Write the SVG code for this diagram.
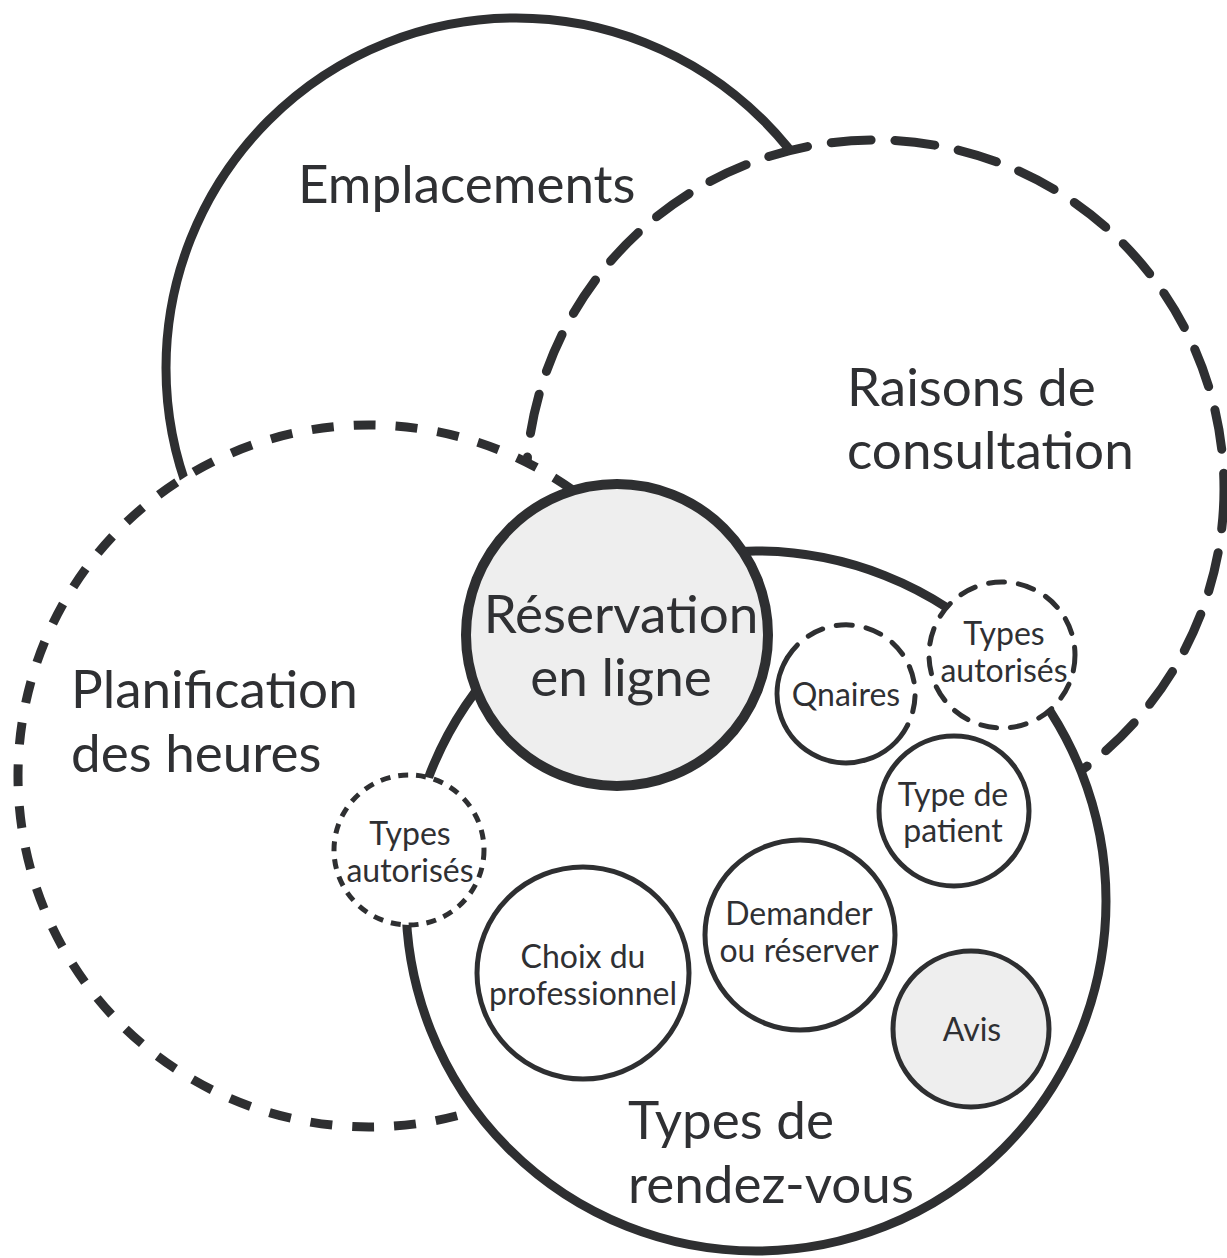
<svg xmlns="http://www.w3.org/2000/svg" width="1227" height="1258" viewBox="0 0 1227 1258">
<style>
  .big { fill: #ffffff; stroke: #2e2f31; stroke-width: 9; }
  .dashL { stroke-dasharray: 40 24; stroke-linecap: round; }
  .dashP { stroke-dasharray: 22 20; }
  .small { fill: #ffffff; stroke: #2e2f31; stroke-width: 5; }
  .dashS { stroke-dasharray: 16 14; stroke-linecap: round; }
  .dotS { stroke-dasharray: 10 8; }
  .hl { fill: #eeeeee; }
  .lbl { font-family: Lato, "Open Sans", sans-serif; fill: #2f3033; text-anchor: middle; }
  .lblL { font-family: Lato, "Open Sans", sans-serif; fill: #2f3033; }
  .t52 { font-size: 53px; }
  .t28 { font-size: 32px; }
</style>
<rect x="0" y="0" width="1227" height="1258" fill="#ffffff"/>
<g id="emplacements">
  <circle class="big" cx="516" cy="368" r="350"/>
  <text class="lblL t52" x="298" y="203">Emplacements</text>
</g>
<g id="raisons">
  <circle class="big dashL" cx="875" cy="489" r="349"/>
  <text class="lblL t52" x="847" y="406">Raisons de</text>
  <text class="lblL t52" x="847" y="469">consultation</text>
</g>
<g id="planification">
  <circle class="big dashP" cx="369" cy="776" r="351"/>
  <text class="lblL t52" x="71" y="708">Planification</text>
  <text class="lblL t52" x="71" y="772">des heures</text>
</g>
<g id="types-rdv">
  <circle class="big" cx="756" cy="901" r="350"/>
  <text class="lblL t52" x="628" y="1139">Types de</text>
  <text class="lblL t52" x="628" y="1203">rendez-vous</text>
</g>
<g id="reservation">
  <circle class="big hl" style="stroke-width:10" cx="617" cy="635" r="151"/>
  <text class="lbl t52" x="621" y="633">Réservation</text>
  <text class="lbl t52" x="621" y="696">en ligne</text>
</g>
<g id="qnaires">
  <circle cx="846" cy="694" r="69" fill="#ffffff"/>
  <path class="small" style="fill:none" d="M 907.5 725.3 A 69 69 0 1 1 787.5 657.4"/>
  <path class="small dashS" style="fill:none" d="M 787.5 657.4 A 69 69 0 0 1 907.5 725.3"/>
  <text class="lbl t28" x="846" y="706">Qnaires</text>
</g>
<g id="types-autorises-droite">
  <circle class="small dashS" cx="1002" cy="655" r="73"/>
  <text class="lbl t28" x="1004" y="645">Types</text>
  <text class="lbl t28" x="1004" y="682">autorisés</text>
</g>
<g id="types-autorises-gauche">
  <circle class="small dotS" cx="409" cy="850" r="75"/>
  <text class="lbl t28" x="410" y="845">Types</text>
  <text class="lbl t28" x="410" y="882">autorisés</text>
</g>
<g id="type-patient">
  <circle class="small" cx="954" cy="811" r="75"/>
  <text class="lbl t28" x="953" y="806">Type de</text>
  <text class="lbl t28" x="953" y="842">patient</text>
</g>
<g id="demander">
  <circle class="small" cx="800" cy="935" r="95"/>
  <text class="lbl t28" x="799" y="925">Demander</text>
  <text class="lbl t28" x="799" y="962">ou réserver</text>
</g>
<g id="choix">
  <circle class="small" cx="583" cy="973" r="106"/>
  <text class="lbl t28" x="583" y="968">Choix du</text>
  <text class="lbl t28" x="583" y="1005">professionnel</text>
</g>
<g id="avis">
  <circle class="small hl" cx="971" cy="1029" r="78"/>
  <text class="lbl t28" x="972" y="1041">Avis</text>
</g>
<g id="connectors"></g>
</svg>
